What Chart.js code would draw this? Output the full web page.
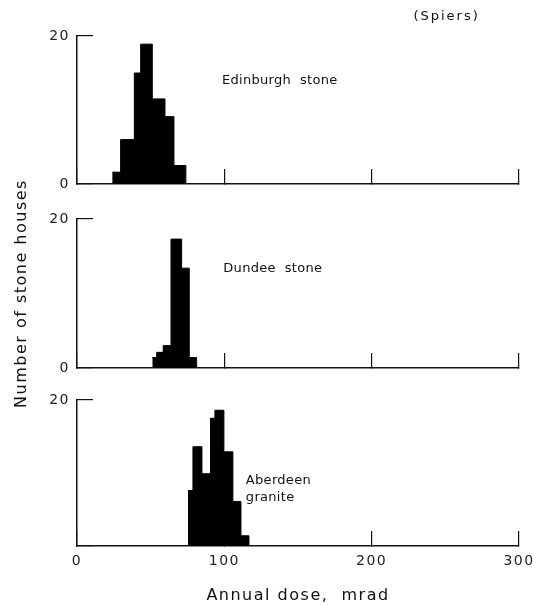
<!DOCTYPE html>
<html>
<head>
<meta charset="utf-8">
<title>Annual dose in stone houses (Spiers)</title>
<script src="https://cdn.jsdelivr.net/npm/chart.js@4.4.1/dist/chart.umd.min.js"></script>
<style>
  body { margin: 0; background: #fff; }
  #wrap { position: relative; width: 539px; height: 605px; overflow: hidden; }
  canvas { position: absolute; left: 0; }
</style>
</head>
<body>
<div id="wrap">
  <canvas id="edinburgh" width="539" height="200" style="top:0"></canvas>
  <canvas id="dundee" width="539" height="270" style="top:150px"></canvas>
  <canvas id="aberdeen" width="539" height="225" style="top:380px"></canvas>
</div>
<script>
// Bin edges (mrad) and houses per bin
const edinburghEdges = [23.9, 29.6, 38.9, 43.2, 51.1, 59.7, 65.8, 73.9];
const edinburghCounts = [1.6, 6, 15, 18.9, 11.5, 9.1, 2.5];

const dundeeEdges = [51.1, 54.1, 58.5, 63.8, 71.0, 76.2, 81.2];
const dundeeCounts = [1.4, 2.1, 3.0, 17.3, 13.4, 1.4];

const aberdeenEdges = [75.3, 78.7, 84.8, 90.6, 93.6, 99.7, 105.8, 111.3, 116.7];
const aberdeenCounts = [7.6, 13.6, 9.9, 17.5, 18.6, 12.9, 6.1, 1.4];

const doseTicks = [0, 100, 200, 300];
const countTicks = [0, 20];

const INK = '#111';
const TEXT = '#222';
const FONT = 'DejaVu Sans';

// each count holds from its edge to the next one, last edge closes to 0
function steps(edges, counts) {
    return edges.map((x, i) => ({ x, y: i < counts.length ? counts[i] : 0 }));
}

// wider lettering like the original drawing
const spacing = {
    id: 'spacing',
    beforeLayout(chart) { chart.ctx.letterSpacing = '1.5px'; },
    beforeDraw(chart) { chart.ctx.letterSpacing = '1.5px'; }
};

// text notes placed in data coordinates
const notes = {
    id: 'notes',
    afterDraw(chart, args, opts) {
        const { ctx, scales: { x, y } } = chart;
        (opts.items || []).forEach(n => {
            ctx.save();
            ctx.font = '13px "' + FONT + '"';
            ctx.letterSpacing = n.spacing + 'px';
            ctx.fillStyle = INK;
            ctx.textAlign = n.align;
            ctx.textBaseline = 'middle';
            n.lines.forEach((t, i) => {
                ctx.fillText(t, x.getPixelForValue(n.x), y.getPixelForValue(n.y) + i * 17);
            });
            ctx.restore();
        });
    }
};

function makePanel(id, edges, counts, o) {
    return new Chart(document.getElementById(id), {
        type: 'line',
        data: {
            datasets: [{
                data: steps(edges, counts),
                stepped: 'before',
                fill: 'origin',
                backgroundColor: '#000',
                borderColor: '#000',
                borderWidth: 1,
                pointRadius: 0
            }]
        },
        options: {
            responsive: false,
            animation: false,
            devicePixelRatio: 1,
            layout: { padding: { top: o.top, right: 20, bottom: o.bottom, left: 0 } },
            plugins: {
                legend: { display: false },
                tooltip: { enabled: false },
                notes: { items: o.notes }
            },
            scales: {
                x: {
                    type: 'linear',
                    min: 0,
                    max: 300,
                    afterBuildTicks: s => { s.ticks = doseTicks.map(v => ({ value: v })); },
                    afterFit: s => {
                        s.height = o.xHeight;
                        s.paddingLeft = 0;
                        s.paddingRight = 0;
                    },
                    grid: { drawOnChartArea: false, tickLength: -15, color: INK, lineWidth: 1.2 },
                    border: { color: INK, width: 1.5 },
                    ticks: {
                        display: o.xLabels,
                        padding: 22,
                        color: TEXT,
                        maxRotation: 0,
                        font: { family: FONT, size: 14 }
                    },
                    title: {
                        display: o.xLabels,
                        text: 'Annual dose,  mrad',
                        color: INK,
                        padding: { top: 0, bottom: 0 },
                        font: { family: FONT, size: 16 }
                    }
                },
                y: {
                    min: 0,
                    max: 20,
                    afterBuildTicks: s => { s.ticks = countTicks.map(v => ({ value: v })); },
                    afterFit: s => {
                        s.width = 77;
                        s.paddingTop = 0;
                        s.paddingBottom = 0;
                    },
                    grid: { drawOnChartArea: false, tickLength: -16, color: INK, lineWidth: 1.2 },
                    border: { color: INK, width: 1.5 },
                    ticks: {
                        padding: 23,
                        color: TEXT,
                        font: { family: FONT, size: 14 },
                        callback: v => (o.hideZero && v === 0) ? '' : v
                    },
                    title: {
                        display: !!o.yTitle,
                        text: 'Number of stone houses',
                        color: INK,
                        padding: { top: 12, bottom: 0 },
                        font: { family: FONT, size: 16 }
                    }
                }
            }
        },
        plugins: [spacing, notes]
    });
}

makePanel('edinburgh', edinburghEdges, edinburghCounts, {
    top: 36, bottom: 0, xHeight: 16, xLabels: false,
    notes: [
        { lines: ['(Spiers)'], x: 273.4, y: 22.6, align: 'right', spacing: 2 },
        { lines: ['Edinburgh  stone'], x: 98.4, y: 14.0, align: 'left', spacing: 0.3 }
    ]
});

makePanel('dundee', dundeeEdges, dundeeCounts, {
    top: 69, bottom: 36, xHeight: 16, xLabels: false, yTitle: true,
    notes: [
        { lines: ['Dundee  stone'], x: 99.3, y: 13.4, align: 'left', spacing: 0.3 }
    ]
});

makePanel('aberdeen', aberdeenEdges, aberdeenCounts, {
    top: 20, bottom: 0, xHeight: 59, xLabels: true, hideZero: true,
    notes: [
        { lines: ['Aberdeen', 'granite'], x: 114.6, y: 9.0, align: 'left', spacing: 0.3 }
    ]
});
</script>
</body>
</html>
